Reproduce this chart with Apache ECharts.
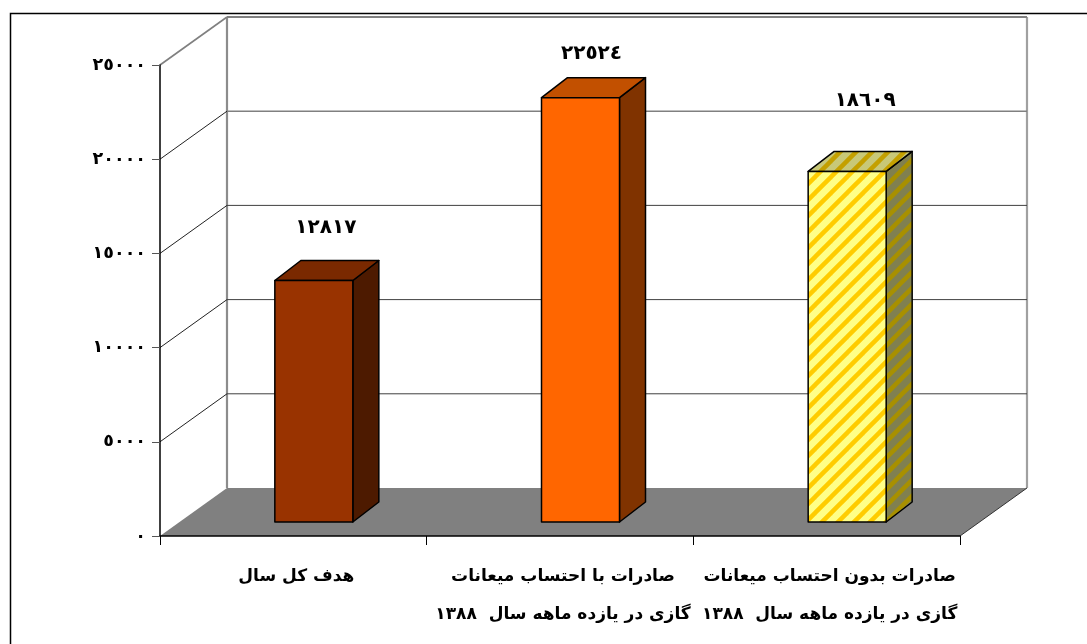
<!DOCTYPE html>
<html>
<head>
<meta charset="utf-8">
<style>
  html, body { margin: 0; padding: 0; background: #fff; }
  #main { width: 1087px; height: 644px; }
</style>
<script src="https://cdn.jsdelivr.net/npm/echarts@6/dist/echarts.min.js"></script>
</head>
<body>
<div id="main"></div>
<script>
var categories = [
  'هدف کل سال',
  'صادرات با احتساب میعانات\nگازی در یازده ماهه سال  ۱۳۸۸',
  'صادرات بدون احتساب میعانات\nگازی در یازده ماهه سال  ۱۳۸۸'
]
var values = [12817, 22524, 18609]
var valueLabels = ['١٢٨١٧', '٢٢٥٢٤', '١٨٦٠٩']
var yTicks = [0, 5000, 10000, 15000, 20000, 25000]
var yTickLabels = ['٠', '٥٠٠٠', '١٠٠٠٠', '١٥٠٠٠', '٢٠٠٠٠', '٢٥٠٠٠']

var font = '"DejaVu Sans", sans-serif'

// 3d look: depth of the whole plot and of one bar, in pixels
var wallDx = 67, wallDy = -48
var barDx = 26, barDy = -20
var barShiftX = 20.5, barShiftY = -14
var barWidth = 78
// where each number sits relative to its bar
var labelGap = [53, 44, 71]
var labelShift = [12, 11, 18]

function stripes(bg, line) {
  var size = 16
  var c = document.createElement('canvas')
  c.width = size
  c.height = size
  var ctx = c.getContext('2d')
  ctx.fillStyle = bg
  ctx.fillRect(0, 0, size, size)
  ctx.strokeStyle = line
  ctx.lineWidth = 4.5
  ;[-size, 0, size].forEach(function (o) {
    // run past the tile so the corners stay covered
    ctx.beginPath()
    ctx.moveTo(o - size, size * 2)
    ctx.lineTo(o + size * 2, -size)
    ctx.stroke()
  })
  return { image: c, repeat: 'repeat' }
}

var barColors = [
  { front: '#993300', top: '#7a2900', side: '#4d1a00' },
  { front: '#ff6600', top: '#c25000', side: '#803300' },
  { front: stripes('#ffff88', '#ffcc00'), top: stripes('#c8c878', '#c4a000'), side: stripes('#808050', '#a89000') }
]

function renderWalls(params, api) {
  var v = yTicks[params.dataIndex]
  var p = api.coord([0, v])
  var left = params.coordSys.x
  var right = left + params.coordSys.width
  var y = p[1]
  var children = []
  if (v === 0) {
    var top = api.coord([0, 25000])[1] + wallDy
    children.push({
      type: 'polygon', z2: 1,
      shape: { points: [[left, y], [left + wallDx, y + wallDy], [right + wallDx, y + wallDy], [right, y]] },
      style: { fill: '#808080' }
    })
    children.push({
      type: 'line', z2: 3,
      shape: { x1: right, y1: y, x2: right + wallDx, y2: y + wallDy },
      style: { stroke: '#333', lineWidth: 1 }
    })
    children.push({
      type: 'line', z2: 2,
      shape: { x1: left + wallDx, y1: top, x2: left + wallDx, y2: y + wallDy },
      style: { stroke: '#8c8c8c', lineWidth: 2.2 }
    })
    children.push({
      type: 'line', z2: 2,
      shape: { x1: right + wallDx, y1: top, x2: right + wallDx, y2: y + wallDy },
      style: { stroke: '#a0a0a0', lineWidth: 2.2 }
    })
    return { type: 'group', children: children }
  }
  children.push({
    type: 'line', z2: 2,
    shape: { x1: left, y1: y, x2: left + wallDx, y2: y + wallDy },
    style: { stroke: v === 25000 ? '#808080' : '#222', lineWidth: v === 25000 ? 1.6 : 1 }
  })
  children.push({
    type: 'line', z2: 2,
    shape: { x1: left + wallDx, y1: y + wallDy, x2: right + wallDx, y2: y + wallDy },
    style: {
      stroke: v >= 20000 ? '#808080' : '#404040',
      lineWidth: v === 25000 ? 2.2 : (v === 20000 ? 1.6 : 1)
    }
  })
  return { type: 'group', children: children }
}

function renderBar(params, api) {
  var i = params.dataIndex
  var cat = api.value(0)
  var t = api.coord([cat, api.value(1)])
  var b = api.coord([cat, 0])
  var x0 = t[0] + barShiftX - barWidth / 2
  var x1 = x0 + barWidth
  var y0 = t[1] + barShiftY
  var y1 = b[1] + barShiftY
  var col = barColors[i]
  var edge = { stroke: '#000', lineWidth: 1.5, lineJoin: 'round' }
  return {
    type: 'group',
    children: [
      {
        type: 'polygon',
        shape: { points: [[x1, y0], [x1 + barDx, y0 + barDy], [x1 + barDx, y1 + barDy], [x1, y1]] },
        style: Object.assign({ fill: col.side }, edge)
      },
      {
        type: 'polygon',
        shape: { points: [[x0, y0], [x0 + barDx, y0 + barDy], [x1 + barDx, y0 + barDy], [x1, y0]] },
        style: Object.assign({ fill: col.top }, edge)
      },
      {
        type: 'rect',
        shape: { x: x0, y: y0, width: barWidth, height: y1 - y0 },
        style: Object.assign({ fill: col.front }, edge)
      },
      {
        type: 'text',
        style: {
          x: (x0 + x1) / 2 + labelShift[i], y: y0 - labelGap[i],
          text: valueLabels[i],
          font: 'bold 20px ' + font,
          fill: '#000',
          align: 'center',
          verticalAlign: 'middle'
        }
      }
    ]
  }
}

var chart = echarts.init(document.getElementById('main'))

chart.setOption({
  animation: false,
  backgroundColor: '#fff',
  graphic: [{
    type: 'polyline',
    silent: true,
    z: -1,
    shape: { points: [[10.5, 644], [10.5, 13.5], [1087, 13.5]] },
    style: { fill: null, stroke: '#000', lineWidth: 1.5 }
  }],
  grid: { left: 160, right: 127, top: 65, bottom: 108 },
  xAxis: {
    type: 'category',
    data: categories,
    z: 5,
    axisLine: { lineStyle: { color: '#000', width: 1.5 } },
    axisTick: { show: true, length: 9, lineStyle: { color: '#000' } },
    axisLabel: {
      margin: 22,
      interval: 0,
      fontFamily: font,
      fontWeight: 'bold',
      fontSize: 17,
      lineHeight: 38,
      padding: [0, 0, 0, 6],
      color: '#000'
    }
  },
  yAxis: {
    type: 'value',
    min: 0,
    max: 25000,
    interval: 5000,
    z: 5,
    splitLine: { show: false },
    axisLine: { show: true, lineStyle: { color: '#000', width: 1.5 } },
    axisTick: { show: true, length: 8, lineStyle: { color: '#555' } },
    axisLabel: {
      margin: 14,
      fontFamily: font,
      fontWeight: 'bold',
      fontSize: 17.5,
      padding: [0, 0, 2, 0],
      color: '#000',
      formatter: function (v) { return yTickLabels[yTicks.indexOf(v)] }
    }
  },
  series: [
    {
      type: 'custom',
      z: 1,
      silent: true,
      renderItem: renderWalls,
      encode: { y: 0 },
      data: yTicks.map(function (v) { return [v] })
    },
    {
      type: 'custom',
      z: 3,
      silent: true,
      renderItem: renderBar,
      encode: { x: 0, y: 1 },
      data: values.map(function (v, i) { return [i, v] })
    }
  ]
})
</script>
</body>
</html>
